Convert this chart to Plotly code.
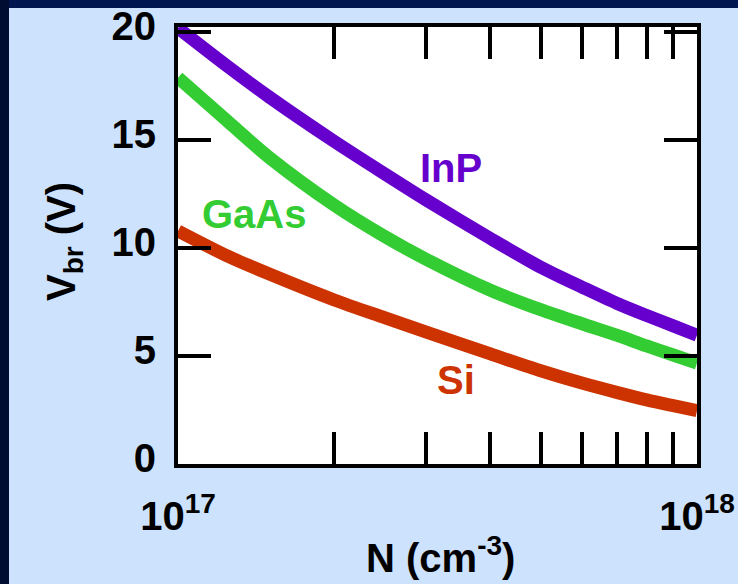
import plotly.graph_objects as go

# Doping concentration (cm^-3)
N = [1.0e17, 1.25e17, 1.5e17, 2e17, 2.5e17, 3e17, 4e17, 5e17, 6e17, 7e17, 8e17, 9e17, 1.0e18]
# Breakdown voltage (V)
V_InP = [20.2, 18.4, 17.0, 14.95, 13.45, 12.25, 10.45, 9.12, 8.2, 7.45, 6.88, 6.4, 5.97]
V_GaAs = [17.9, 15.85, 14.2, 12.0, 10.55, 9.5, 8.05, 7.15, 6.5, 5.97, 5.47, 5.05, 4.68]
V_Si = [10.8, 9.62, 8.8, 7.6, 6.78, 6.12, 5.1, 4.32, 3.75, 3.32, 2.97, 2.7, 2.47]

x_tickvals = [1e17, 2e17, 3e17, 4e17, 5e17, 6e17, 7e17, 8e17, 9e17, 1e18]
x_ticktext = ["10<sup>17</sup>", "", "", "", "", "", "", "", "", "10<sup>18</sup>"]
y_tickvals = [0, 5, 10, 15, 20]
y_ticktext = ["0", "5", "10", "15", "20"]

PURPLE = "#6600cc"
GREEN = "#33cc33"
RED = "#cc3300"
FONT = "Liberation Sans, Arial, sans-serif"

fig = go.Figure()
for vals, col, name in [(V_Si, RED, "Si"), (V_GaAs, GREEN, "GaAs"), (V_InP, PURPLE, "InP")]:
    fig.add_trace(go.Scatter(x=N, y=vals, mode="lines", name=name,
                             line=dict(color=col, width=13, shape="spline", smoothing=0.8),
                             showlegend=False, hoverinfo="skip"))

W, H = 738, 584
L, R, T, B = 178, 738 - 697, 27, 584 - 464
pw, ph = W - L - R, H - T - B

def px(x):
    return (x - L) / pw

def py(y):
    return (H - B - y) / ph

fig.update_layout(
    width=W, height=H,
    margin=dict(l=L, r=R, t=T, b=B, autoexpand=False),
    paper_bgcolor="#cce2fd",
    plot_bgcolor="white",
    font=dict(family=FONT, color="black"),
    xaxis=dict(type="log", range=[17, 18], tickvals=x_tickvals, ticktext=x_ticktext,
               ticks="inside", ticklen=32, tickwidth=4, tickcolor="black",
               showline=True, linewidth=4, linecolor="black", mirror="ticks",
               showgrid=False, zeroline=False, automargin=False,
               tickfont=dict(size=40, weight="bold", family=FONT),
               ticklabelstandoff=14),
    yaxis=dict(range=[0, 20.25], tickvals=y_tickvals, ticktext=y_ticktext,
               ticks="inside", ticklen=33, tickwidth=4, tickcolor="black",
               showline=True, linewidth=4, linecolor="black", mirror="ticks",
               showgrid=False, zeroline=False, automargin=False,
               tickfont=dict(size=40, weight="bold", family=FONT),
               ticklabelstandoff=10, ticklabelshift=-6),
    shapes=[
        dict(type="rect", xref="paper", yref="paper", x0=px(0), x1=px(W), y0=py(0), y1=py(8),
             fillcolor="#001650", line=dict(width=0), layer="below"),
        dict(type="rect", xref="paper", yref="paper", x0=px(0), x1=px(9), y0=py(0), y1=py(H),
             fillcolor="#000d33", line=dict(width=0), layer="below"),
    ],
    annotations=[
        dict(text="InP", x=px(451), y=py(168), xref="paper", yref="paper", showarrow=False,
             xanchor="center", yanchor="middle", font=dict(size=40, color=PURPLE, weight="bold")),
        dict(text="GaAs", x=px(254), y=py(214), xref="paper", yref="paper", showarrow=False,
             xanchor="center", yanchor="middle", font=dict(size=40, color=GREEN, weight="bold")),
        dict(text="Si", x=px(456), y=py(380), xref="paper", yref="paper", showarrow=False,
             xanchor="center", yanchor="middle", font=dict(size=40, color=RED, weight="bold")),
        dict(text="V<sub>br</sub> (V)", x=px(64), y=py(242), xref="paper", yref="paper",
             showarrow=False, textangle=-90, xanchor="center", yanchor="middle",
             font=dict(size=40, color="black", weight="bold")),
        dict(text="N (cm<sup>-3</sup>)", x=px(440), y=py(555), xref="paper", yref="paper",
             showarrow=False, xanchor="center", yanchor="middle",
             font=dict(size=40, color="black", weight="bold")),
    ],
)

fig.write_html("out.html")
